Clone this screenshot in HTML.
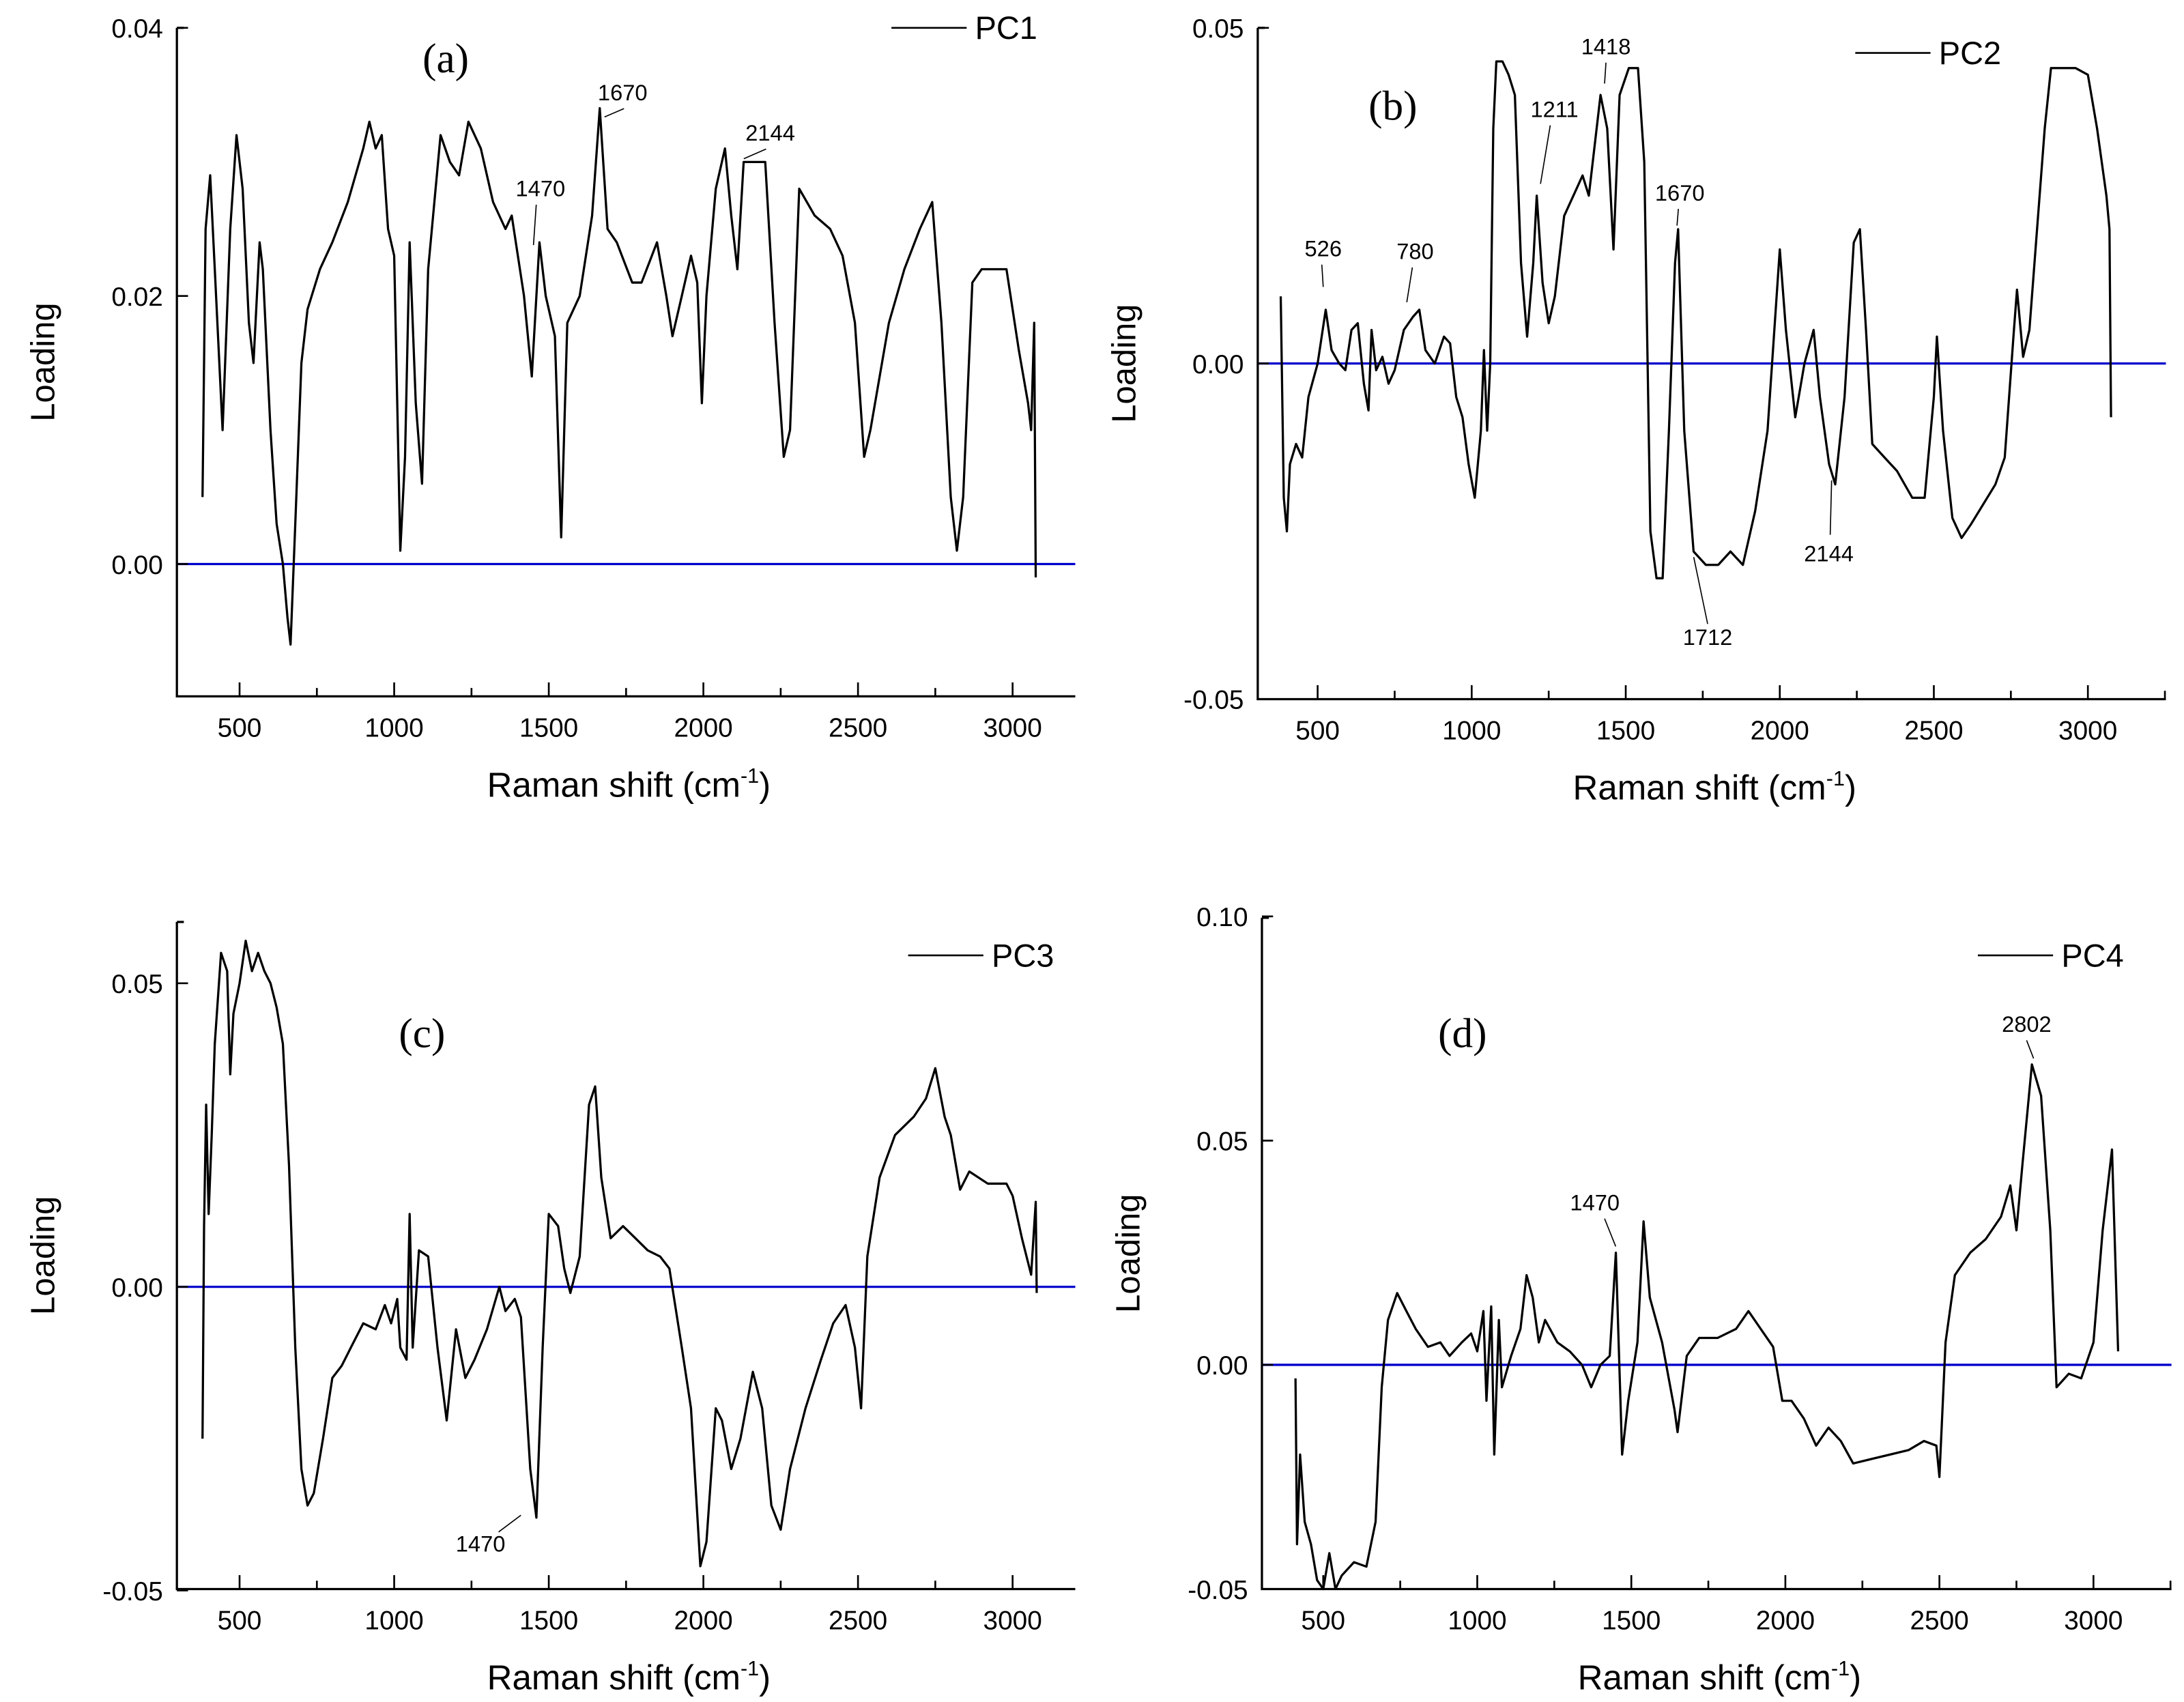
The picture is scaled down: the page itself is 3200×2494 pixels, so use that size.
<!DOCTYPE html>
<html><head><meta charset="utf-8"><style>
html,body{margin:0;padding:0;background:#fff}
svg{display:block}
text{font-family:"Liberation Sans",Arial,sans-serif;fill:#000}
.ser{font-family:"Liberation Serif","Times New Roman",serif}
</style></head><body>
<svg id="chart" width="3200" height="2494" viewBox="0 0 1568 1222.1" preserveAspectRatio="none" xmlns="http://www.w3.org/2000/svg"></svg>
<script>
const pc1X=[380,390,405,420,445,470,490,510,530,545,565,575,600,620,640,655,665,680,700,720,760,800,850,900,920,940,960,980,1000,1020,1035,1050,1070,1090,1110,1150,1180,1210,1240,1280,1320,1360,1380,1420,1445,1470,1490,1520,1540,1560,1600,1640,1665,1690,1720,1770,1800,1850,1880,1900,1930,1960,1980,1995,2010,2040,2070,2090,2110,2130,2160,2200,2230,2260,2280,2310,2360,2410,2450,2490,2520,2540,2600,2650,2700,2740,2770,2800,2820,2840,2870,2900,2980,3020,3050,3060,3070,3075];
const pc1Y=[0.005,0.025,0.029,0.022,0.010,0.025,0.032,0.028,0.018,0.015,0.024,0.022,0.010,0.003,0.000,-0.004,-0.006,0.003,0.015,0.019,0.022,0.024,0.027,0.031,0.033,0.031,0.032,0.025,0.023,0.001,0.008,0.024,0.012,0.006,0.022,0.032,0.030,0.029,0.033,0.031,0.027,0.025,0.026,0.020,0.014,0.024,0.020,0.017,0.002,0.018,0.020,0.026,0.034,0.025,0.024,0.021,0.021,0.024,0.020,0.017,0.020,0.023,0.021,0.012,0.020,0.028,0.031,0.026,0.022,0.030,0.030,0.030,0.018,0.008,0.010,0.028,0.026,0.025,0.023,0.018,0.008,0.010,0.018,0.022,0.025,0.027,0.018,0.005,0.001,0.005,0.021,0.022,0.022,0.016,0.012,0.010,0.018,-0.001];
const pc2X=[380,390,400,410,430,450,470,500,526,545,570,590,610,630,650,665,675,690,710,730,750,780,810,830,850,880,910,930,950,970,990,1010,1030,1040,1050,1060,1070,1080,1100,1120,1140,1160,1180,1200,1211,1230,1250,1270,1300,1340,1360,1380,1418,1440,1460,1480,1510,1540,1560,1580,1600,1620,1640,1660,1670,1690,1720,1760,1800,1840,1880,1920,1960,2000,2020,2050,2080,2110,2130,2160,2180,2210,2240,2260,2280,2300,2340,2380,2430,2470,2500,2510,2530,2560,2590,2620,2660,2700,2730,2760,2770,2790,2810,2860,2880,2920,2960,3000,3030,3060,3070,3075];
const pc2Y=[0.010,-0.020,-0.025,-0.015,-0.012,-0.014,-0.005,0.000,0.008,0.002,0.000,-0.001,0.005,0.006,-0.003,-0.007,0.005,-0.001,0.001,-0.003,-0.001,0.005,0.007,0.008,0.002,0.000,0.004,0.003,-0.005,-0.008,-0.015,-0.020,-0.010,0.002,-0.010,0.000,0.035,0.045,0.045,0.043,0.040,0.015,0.004,0.015,0.025,0.012,0.006,0.010,0.022,0.026,0.028,0.025,0.040,0.035,0.017,0.040,0.044,0.044,0.030,-0.025,-0.032,-0.032,-0.010,0.015,0.020,-0.010,-0.028,-0.030,-0.030,-0.028,-0.030,-0.022,-0.010,0.017,0.005,-0.008,0.000,0.005,-0.005,-0.015,-0.018,-0.005,0.018,0.020,0.005,-0.012,-0.014,-0.016,-0.020,-0.020,-0.005,0.004,-0.010,-0.023,-0.026,-0.024,-0.021,-0.018,-0.014,0.005,0.011,0.001,0.005,0.035,0.044,0.044,0.044,0.043,0.035,0.025,0.020,-0.008];
const pc3X=[380,385,392,400,410,420,440,460,470,480,500,520,540,560,580,600,620,640,660,680,700,720,740,770,800,830,860,900,940,970,990,1010,1020,1040,1050,1060,1080,1110,1140,1170,1200,1230,1260,1300,1340,1360,1390,1410,1440,1460,1480,1500,1530,1550,1570,1600,1630,1650,1670,1700,1740,1780,1820,1860,1890,1930,1960,1990,2010,2040,2060,2090,2120,2160,2190,2220,2250,2280,2330,2380,2420,2460,2490,2510,2530,2570,2620,2680,2720,2750,2780,2800,2830,2860,2920,2980,3000,3030,3060,3075,3078];
const pc3Y=[-0.025,0.010,0.030,0.012,0.025,0.040,0.055,0.052,0.035,0.045,0.050,0.057,0.052,0.055,0.052,0.050,0.046,0.040,0.020,-0.010,-0.030,-0.036,-0.034,-0.025,-0.015,-0.013,-0.010,-0.006,-0.007,-0.003,-0.006,-0.002,-0.010,-0.012,0.012,-0.010,0.006,0.005,-0.010,-0.022,-0.007,-0.015,-0.012,-0.007,0.000,-0.004,-0.002,-0.005,-0.030,-0.038,-0.010,0.012,0.010,0.003,-0.001,0.005,0.030,0.033,0.018,0.008,0.010,0.008,0.006,0.005,0.003,-0.010,-0.020,-0.046,-0.042,-0.020,-0.022,-0.030,-0.025,-0.014,-0.020,-0.036,-0.040,-0.030,-0.020,-0.012,-0.006,-0.003,-0.010,-0.020,0.005,0.018,0.025,0.028,0.031,0.036,0.028,0.025,0.016,0.019,0.017,0.017,0.015,0.008,0.002,0.014,-0.001];
const pc4X=[410,415,425,440,460,480,500,520,540,560,600,640,670,690,710,740,770,800,840,880,910,950,980,1000,1020,1030,1045,1055,1070,1080,1110,1140,1160,1180,1200,1220,1260,1300,1340,1370,1400,1430,1450,1470,1490,1520,1540,1560,1600,1640,1650,1680,1720,1780,1840,1880,1920,1960,1990,2020,2060,2100,2140,2180,2220,2280,2340,2400,2450,2490,2500,2520,2550,2600,2650,2700,2730,2750,2770,2800,2830,2860,2880,2920,2960,3000,3030,3060,3080];
const pc4Y=[-0.003,-0.040,-0.020,-0.035,-0.040,-0.048,-0.050,-0.042,-0.050,-0.047,-0.044,-0.045,-0.035,-0.005,0.010,0.016,0.012,0.008,0.004,0.005,0.002,0.005,0.007,0.003,0.012,-0.008,0.013,-0.020,0.010,-0.005,0.002,0.008,0.020,0.015,0.005,0.010,0.005,0.003,0.000,-0.005,0.000,0.002,0.025,-0.020,-0.008,0.005,0.032,0.015,0.005,-0.010,-0.015,0.002,0.006,0.006,0.008,0.012,0.008,0.004,-0.008,-0.008,-0.012,-0.018,-0.014,-0.017,-0.022,-0.021,-0.020,-0.019,-0.017,-0.018,-0.025,0.005,0.020,0.025,0.028,0.033,0.040,0.030,0.045,0.067,0.060,0.030,-0.005,-0.002,-0.003,0.005,0.030,0.048,0.003];
const xTicks=[500,1000,1500,2000,2500,3000];
const ticksA=[0.00,0.02,0.04], ticksB=[-0.05,0.00,0.05], ticksC=[-0.05,0.00,0.05], ticksD=[-0.05,0.00,0.05,0.10];
const labA=["0.00","0.02","0.04"], labB=["-0.05","0.00","0.05"], labC=["-0.05","0.00","0.05"], labD=["-0.05","0.00","0.05","0.10"];

const NS="http://www.w3.org/2000/svg";
const svg=document.getElementById('chart');
function mk(tag,attrs,parent,txt){const e=document.createElementNS(NS,tag);for(const k in attrs)e.setAttribute(k,attrs[k]);if(txt!==undefined)e.textContent=txt;(parent||svg).appendChild(e);return e;}

function panel(p){
  const g=mk('g',{});
  
  
  const sx=v=>p.x500+(v-500)*(p.x3000-p.x500)/2500;
  const sy=v=>p.y0+(v-p.v0)*(p.y1-p.y0)/(p.v1-p.v0);
  const z=mk('line',{x1:p.L,x2:p.R,y1:sy(0),y2:sy(0),stroke:'#0000cc','stroke-width':1.6},g);
  
  
  let d='';
  for(let i=0;i<p.xs.length;i++){d+=(i?'L':'M')+sx(p.xs[i]).toFixed(1)+' '+sy(p.ys[i]).toFixed(1);}
  const s=mk('path',{d:d,fill:'none',stroke:'#000','stroke-width':1.6,'stroke-linejoin':'round'},g);
  
  
  const ax=mk('path',{d:`M${p.L} ${p.T}V${p.B}H${p.R}`,fill:'none',stroke:'#000','stroke-width':1.6},g);
  
  
  mk('line',{x1:p.L,x2:p.L+5,y1:p.T,y2:p.T,stroke:'#000','stroke-width':1.6},g);
  for(let v=250;v<=3250;v+=250){const x=sx(v);if(x<p.L+2||x>p.R+1)continue;const big=v%500===0;
    mk('line',{x1:x,x2:x,y1:p.B,y2:p.B-(big?10:6),stroke:'#000','stroke-width':1.3},g);}
  xTicks.forEach(v=>{const t=mk('text',{x:sx(v),y:p.B+29,'font-size':19,'text-anchor':'middle'},g,String(v));
    
    });
  p.ticks.forEach((v,i)=>{const y=sy(v);mk('line',{x1:p.L,x2:p.L+8,y1:y,y2:y,stroke:'#000','stroke-width':1.3},g);
    const t=mk('text',{x:p.L-10,y:y+7,'font-size':19,'text-anchor':'end'},g,p.labs[i]);
    
    });
  const yt=mk('text',{x:0,y:0,'font-size':24,'text-anchor':'middle',transform:`translate(${p.L-88},${(p.T+p.B)/2}) rotate(-90)`},g,'Loading');
  
  
  const xt=mk('text',{x:(p.L+p.R)/2+2,y:p.B+72,'font-size':25,'text-anchor':'middle'},g);
  
  
  xt.appendChild(document.createTextNode('Raman shift (cm'));
  mk('tspan',{dy:-10,'font-size':15},xt,'-1');
  mk('tspan',{dy:10},xt,')');
  const lg=mk('g',{},g);
  
  
  mk('line',{x1:p.legX,x2:p.legX+54,y1:p.legY,y2:p.legY,stroke:'#000','stroke-width':1.3},lg);
  mk('text',{x:p.legX+60,y:p.legY+8,'font-size':23},lg,p.name);
  const pl=mk('text',{x:p.labX,y:p.labY,'font-size':30,'class':'ser','text-anchor':'middle'},g,'('+p.id+')');
  
  
  p.ann.forEach(a=>{const t=mk('text',{x:a[0],y:a[1],'font-size':16,'text-anchor':'middle'},g,a[2]);
    
    
    if(a[3])mk('line',{x1:a[3][0],y1:a[3][1],x2:a[3][2],y2:a[3][3],stroke:'#000','stroke-width':0.8},g);});
}

panel({id:'a',name:'PC1',xs:pc1X,ys:pc1Y,L:127,R:772,T:20,B:500,x500:172,x3000:727,v0:0,y0:405,v1:0.04,y1:20,ticks:ticksA,labs:labA,legX:640,legY:20,labX:320,labY:52,
  ann:[[447,72,'1670',[448,78,434,84]],[388,141,'1470',[385,147,383,176]],[553,101,'2144',[550,107,534,114]]]});
panel({id:'b',name:'PC2',xs:pc2X,ys:pc2Y,L:903,R:1555,T:20,B:502,x500:946,x3000:1499,v0:0,y0:261,v1:0.05,y1:20,ticks:ticksB,labs:labB,legX:1332,legY:38,labX:1000,labY:86,
  ann:[[950,184,'526',[949,190,950,206]],[1016,186,'780',[1014,192,1010,217]],[1116,84,'1211',[1113,90,1106,132]],[1153,39,'1418',[1153,45,1152,60]],[1206,144,'1670',[1205,150,1204,162]],[1226,463,'1712',[1226,448,1216,400]],[1313,403,'2144',[1314,384,1315,345]]]});
panel({id:'c',name:'PC3',xs:pc3X,ys:pc3Y,L:127,R:772,T:662,B:1141,x500:172,x3000:727,v0:0,y0:924,v1:0.05,y1:706,ticks:ticksC,labs:labC,legX:652,legY:686,labX:303,labY:752,
  ann:[[345,1114,'1470',[358,1100,374,1088]]]});
panel({id:'d',name:'PC4',xs:pc4X,ys:pc4Y,L:906,R:1559,T:659,B:1141,x500:950,x3000:1503,v0:0,y0:980,v1:0.05,y1:819,ticks:ticksD,labs:labD,legX:1420,legY:686,labX:1050,labY:752,
  ann:[[1145,869,'1470',[1152,875,1160,895]],[1455,741,'2802',[1455,747,1460,760]]]});
</script>
</body></html>
